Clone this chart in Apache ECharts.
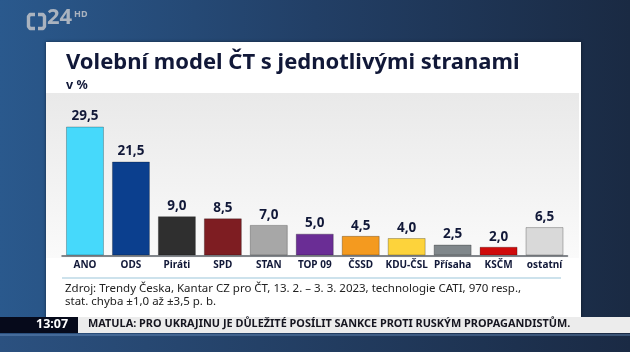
<!DOCTYPE html>
<html>
<head>
<meta charset="utf-8">
<script src="https://cdn.jsdelivr.net/npm/echarts@6/dist/echarts.min.js"></script>
<style>
  html, body { margin: 0; padding: 0; }
  #chart { width: 630px; height: 352px; }
</style>
</head>
<body>
<div id="chart"></div>
<script>
// strany a hodnoty volebního modelu (v %)
const parties = ['ANO', 'ODS', 'Piráti', 'SPD', 'STAN', 'TOP 09', 'ČSSD', 'KDU-ČSL', 'Přísaha', 'KSČM', 'ostatní'];
const values = [29.5, 21.5, 9.0, 8.5, 7.0, 5.0, 4.5, 4.0, 2.5, 2.0, 6.5];
const partyColors = ['#46d9fb', '#0b3f8e', '#2f2f2f', '#7e1d22', '#a7a7a7', '#6a2d95',
  '#f49a1f', '#fdd33b', '#80878b', '#cf0b0b', '#d9d9d9'];

const titleText = 'Volební model ČT s jednotlivými stranami';
const sourceLines = [
  'Zdroj: Trendy Česka, Kantar CZ pro ČT, 13. 2. – 3. 3. 2023, technologie CATI, 970 resp.,',
  'stat. chyba ±1,0 až ±3,5 p. b.'
];
const tickerTime = '13:07';
const tickerText = 'MATULA: PRO UKRAJINU JE DŮLEŽITÉ POSÍLIT SANKCE PROTI RUSKÝM PROPAGANDISTŮM.';

const font = 'Noto Sans';
const navy = '#111838';
const logoGray = '#aab3bf';

const chart = echarts.init(document.getElementById('chart'));

const option = {
  backgroundColor: {
    type: 'linear', x: 0, y: 0, x2: 1, y2: 0,
    colorStops: [
      { offset: 0, color: '#2a598d' },
      { offset: 0.5, color: '#223f66' },
      { offset: 1, color: '#1a2a43' }
    ]
  },
  animation: false,
  graphic: [
    // logo
    { type: 'polyline', z: 1, shape: { points: [[35, 14.5], [30, 14.5], [28.5, 16.5], [28.5, 26.5], [30, 28.5], [35, 28.5]] },
      style: { fill: null, stroke: logoGray, lineWidth: 3.4, lineJoin: 'round' } },
    { type: 'polyline', z: 1, shape: { points: [[38, 14.5], [43, 14.5], [44.5, 16.5], [44.5, 26.5], [43, 28.5], [38, 28.5]] },
      style: { fill: null, stroke: logoGray, lineWidth: 3.4, lineJoin: 'round' } },
    { type: 'text', z: 1, x: 47, y: 7,
      style: { text: '24', font: 'bold 22px "' + font + '"', fill: logoGray } },
    { type: 'text', z: 1, x: 74, y: 10,
      style: { text: 'HD', font: 'bold 9px "' + font + '"', fill: logoGray } },
    // karta
    { type: 'rect', z: 0, shape: { x: 46, y: 42, width: 535, height: 276 },
      style: { fill: '#ffffff', shadowBlur: 3, shadowColor: 'rgba(0,0,0,0.5)' } },
    { type: 'rect', z: 0, shape: { x: 46, y: 93, width: 533, height: 165 },
      style: {
        fill: {
          type: 'linear', x: 0, y: 0, x2: 0, y2: 1,
          colorStops: [{ offset: 0, color: '#e9e9e9' }, { offset: 1, color: '#fafafa' }]
        }
      } },
    { type: 'line', z: 1, shape: { x1: 62, y1: 278, x2: 561, y2: 278 },
      style: { stroke: '#bcd8e6', lineWidth: 1.5 } },
    { type: 'text', z: 1, x: 65, y: 282,
      style: { text: sourceLines.join('\n'), font: '11.5px "' + font + '"', fill: '#222222', lineHeight: 13 } },
    // ticker
    { type: 'rect', z: 1, shape: { x: 0, y: 317, width: 78, height: 16 }, style: { fill: '#060a1b' } },
    { type: 'rect', z: 1, shape: { x: 78, y: 317, width: 552, height: 16 }, style: { fill: '#ececec' } },
    { type: 'text', z: 2, x: 36, y: 317.5,
      style: { text: tickerTime, font: 'bold 12.5px "' + font + '"', fill: '#ffffff' } },
    { type: 'text', z: 2, x: 88, y: 318.5,
      style: { text: tickerText, font: 'bold 10.9px "' + font + '"', fill: '#15151f' } },
    { type: 'rect', z: 1, shape: { x: 0, y: 333, width: 630, height: 19 },
      style: {
        fill: {
          type: 'linear', x: 0, y: 0, x2: 1, y2: 0,
          colorStops: [{ offset: 0, color: '#2b5180' }, { offset: 1, color: '#1a2a44' }]
        }
      } },
    { type: 'line', z: 1, shape: { x1: 0, y1: 335, x2: 630, y2: 335 },
      style: { stroke: 'rgba(120,160,210,0.35)', lineWidth: 2 } }
  ],
  title: {
    text: titleText,
    subtext: 'v %',
    left: 61,
    top: 47,
    itemGap: 5,
    textStyle: { fontFamily: font, fontWeight: 'bold', fontSize: 22, color: navy },
    subtextStyle: { fontFamily: font, fontWeight: 'bold', fontSize: 12.5, color: navy }
  },
  grid: { left: 62, right: 62.5, top: 102.5, bottom: 96.5, containLabel: false },
  xAxis: {
    type: 'category',
    data: parties,
    axisLine: { lineStyle: { color: '#5a5f66', width: 1.5 } },
    axisTick: { show: false },
    axisLabel: { fontFamily: font, fontWeight: 'bold', fontSize: 10, color: navy, margin: 5, interval: 0 }
  },
  yAxis: {
    type: 'value',
    min: 0,
    max: 35,
    show: false,
    splitLine: { show: false }
  },
  series: [{
    type: 'bar',
    barWidth: 38,
    data: values.map((v, i) => ({
      value: v,
      itemStyle: { color: partyColors[i], borderColor: 'rgba(0,0,0,0.25)', borderWidth: 1 }
    })),
    label: {
      show: true,
      position: 'top',
      distance: 3,
      fontFamily: font,
      fontWeight: 'bold',
      fontSize: 13.5,
      color: navy,
      formatter: (p) => p.value.toFixed(1).replace('.', ',')
    }
  }]
};

chart.setOption(option);
</script>
</body>
</html>
